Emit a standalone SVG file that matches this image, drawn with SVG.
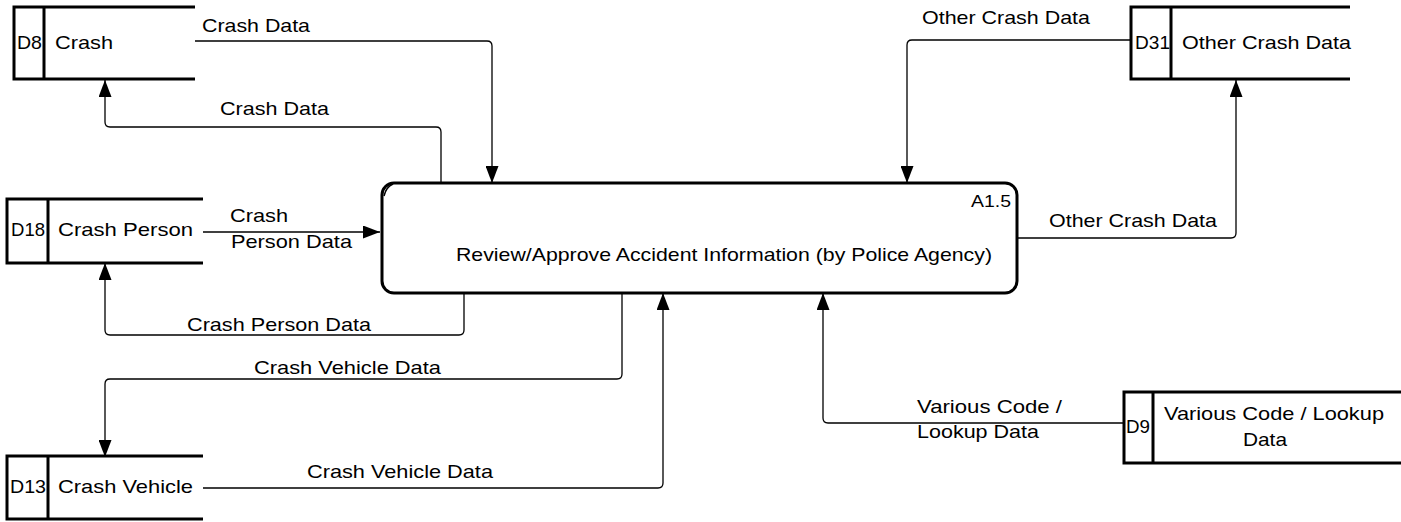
<svg xmlns="http://www.w3.org/2000/svg" width="1401" height="522" viewBox="0 0 1401 522">
  <style>
    .store { fill: none; stroke: #000; stroke-width: 3; }
    .proc { fill: #fff; stroke: #000; stroke-width: 3; }
    .flow { fill: none; stroke: #000; stroke-width: 1.3; marker-end: url(#arrow); }
    text { font-family: "Liberation Sans", Arial, sans-serif; font-size: 19px; fill: #000; }
    .small { font-size: 17px; }
  </style>
  <defs>
    <marker id="arrow" markerUnits="userSpaceOnUse" markerWidth="17" markerHeight="13" refX="17" refY="6.5" orient="auto">
      <path d="M0,0 L17,6.5 L0,13 Z" fill="#000"/>
    </marker>
  </defs>

  <rect width="1401" height="522" fill="#fff"/>

  <!-- data flows -->
  <g id="connectors">
    <path class="flow" d="M195,41 H487 Q492,41 492,46 V183"/>
    <path class="flow" d="M441,183 V132 Q441,127 436,127 H110 Q105,127 105,122 V80"/>
    <path class="flow" d="M203,232 H380"/>
    <path class="flow" d="M464,293 V330 Q464,335 459,335 H110 Q105,335 105,330 V263"/>
    <path class="flow" d="M622,293 V374 Q622,379 617,379 H110 Q105,379 105,384 V457"/>
    <path class="flow" d="M203,488 H658 Q663,488 663,483 V293"/>
    <path class="flow" d="M1131,40 H912 Q907,40 907,45 V183"/>
    <path class="flow" d="M1017,238 H1231 Q1236,238 1236,233 V80"/>
    <path class="flow" d="M1123,423 H828 Q823,423 823,418 V293"/>

    <text x="202" y="32" textLength="108" lengthAdjust="spacingAndGlyphs">Crash Data</text>
    <text x="220" y="115" textLength="109" lengthAdjust="spacingAndGlyphs">Crash Data</text>
    <text x="230" y="222" textLength="58" lengthAdjust="spacingAndGlyphs">Crash</text>
    <text x="231" y="248" textLength="121" lengthAdjust="spacingAndGlyphs">Person Data</text>
    <text x="187" y="331" textLength="184" lengthAdjust="spacingAndGlyphs">Crash Person Data</text>
    <text x="254" y="374" textLength="187" lengthAdjust="spacingAndGlyphs">Crash Vehicle Data</text>
    <text x="307" y="478" textLength="186" lengthAdjust="spacingAndGlyphs">Crash Vehicle Data</text>
    <text x="922" y="24" textLength="168" lengthAdjust="spacingAndGlyphs">Other Crash Data</text>
    <text x="1049" y="227" textLength="168" lengthAdjust="spacingAndGlyphs">Other Crash Data</text>
    <text x="917" y="413" textLength="145" lengthAdjust="spacingAndGlyphs">Various Code /</text>
    <text x="917" y="438" textLength="122" lengthAdjust="spacingAndGlyphs">Lookup Data</text>
  </g>

  <!-- process A1.5 -->
  <g id="process-a1-5">
    <rect class="proc" x="382" y="183" width="635" height="110" rx="12" ry="12"/>
    <path d="M384,196 Q386,187 393,184" fill="none" stroke="#000" stroke-width="1.5"/>
    <text class="small" x="971" y="207" textLength="40" lengthAdjust="spacingAndGlyphs">A1.5</text>
    <text x="456" y="261" textLength="536" lengthAdjust="spacingAndGlyphs">Review/Approve Accident Information (by Police Agency)</text>
  </g>

  <!-- data store D8 -->
  <g id="store-d8">
    <path class="store" d="M195,7 H14 V79 H195 M44,7 V79"/>
    <text x="17" y="49" textLength="25" lengthAdjust="spacingAndGlyphs">D8</text>
    <text x="55" y="49" textLength="58" lengthAdjust="spacingAndGlyphs">Crash</text>
  </g>

  <!-- data store D18 -->
  <g id="store-d18">
    <path class="store" d="M203,199 H7 V263 H203 M48,199 V263"/>
    <text x="11" y="236" textLength="34" lengthAdjust="spacingAndGlyphs">D18</text>
    <text x="58" y="236" textLength="135" lengthAdjust="spacingAndGlyphs">Crash Person</text>
  </g>

  <!-- data store D13 -->
  <g id="store-d13">
    <path class="store" d="M203,456 H7 V519 H203 M48,456 V519"/>
    <text x="10" y="493" textLength="36" lengthAdjust="spacingAndGlyphs">D13</text>
    <text x="58" y="493" textLength="135" lengthAdjust="spacingAndGlyphs">Crash Vehicle</text>
  </g>

  <!-- data store D31 -->
  <g id="store-d31">
    <path class="store" d="M1350,7 H1131 V79 H1350 M1171,7 V79"/>
    <text x="1135" y="49" textLength="35" lengthAdjust="spacingAndGlyphs">D31</text>
    <text x="1182" y="49" textLength="169" lengthAdjust="spacingAndGlyphs">Other Crash Data</text>
  </g>

  <!-- data store D9 -->
  <g id="store-d9">
    <path class="store" d="M1401,392 H1124 V463 H1401 M1153,392 V463"/>
    <text x="1126" y="433" textLength="24" lengthAdjust="spacingAndGlyphs">D9</text>
    <text x="1164" y="420" textLength="220" lengthAdjust="spacingAndGlyphs">Various Code / Lookup</text>
    <text x="1243" y="446" textLength="44" lengthAdjust="spacingAndGlyphs">Data</text>
  </g>
</svg>
